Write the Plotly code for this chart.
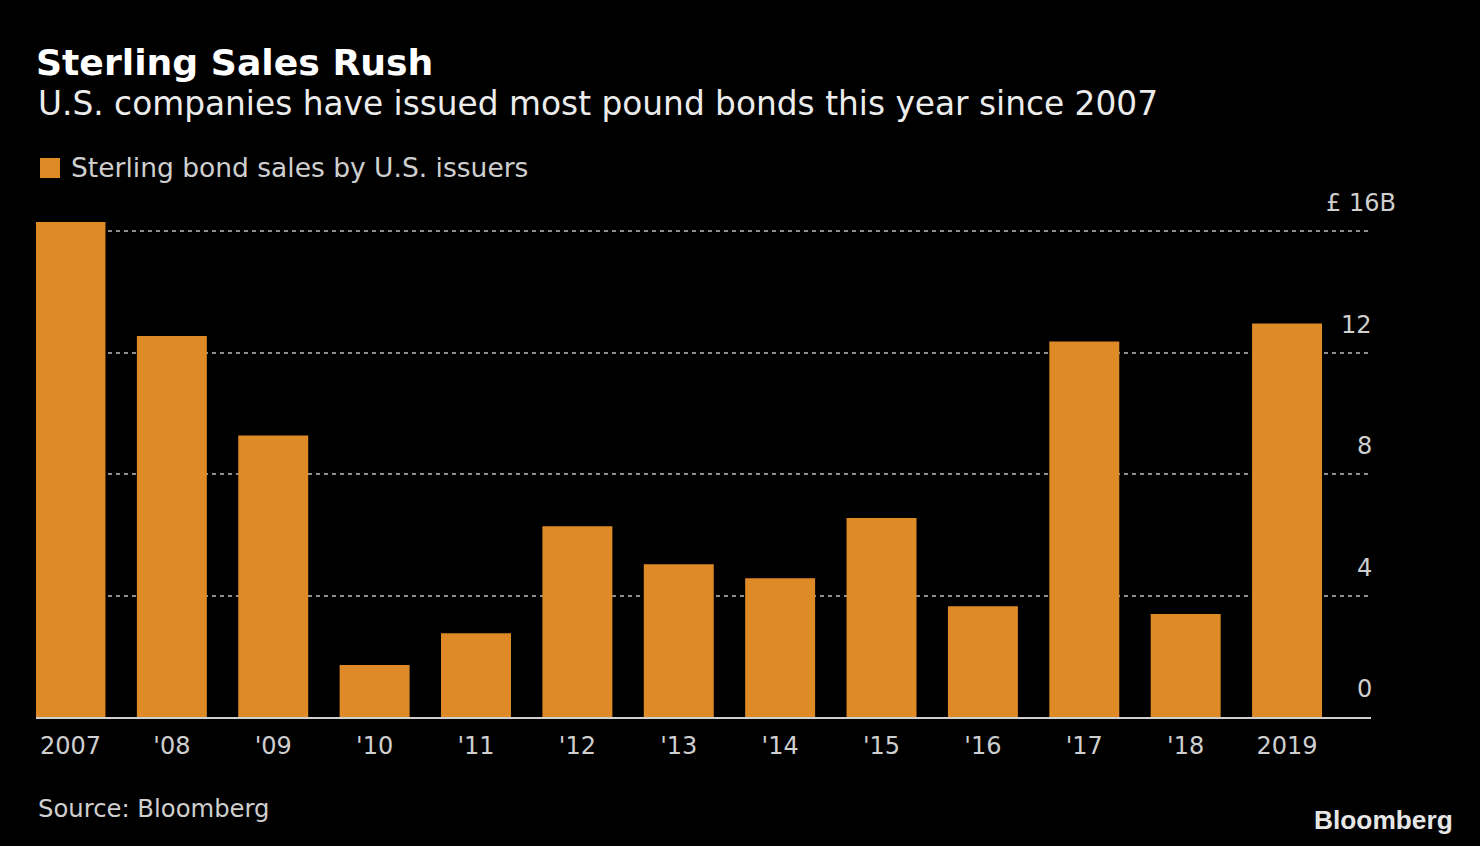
import plotly.graph_objects as go

# ---- data ----
years = ["2007", "'08", "'09", "'10", "'11", "'12", "'13", "'14", "'15", "'16", "'17", "'18", "2019"]
sales_bn = [16.3, 12.55, 9.27, 1.71, 2.76, 6.28, 5.03, 4.57, 6.55, 3.65, 12.37, 3.39, 12.96]
y_ticks = [0, 4, 8, 12, 16]
y_tick_labels = ["0", "4", "8", "12", "£ 16B"]
series_name = "Sterling bond sales by U.S. issuers"

# ---- layout constants ----
W, H = 1480, 846
ML, MR, MT, MB = 36, 109, 216, 129
PW, PH = W - ML - MR, H - MT - MB
FONT = "DejaVu Sans"
BAR = "#dd8a27"
GREY = "#cfcfcf"


def py(pix):
    """pixel y (from top) -> paper y"""
    return (H - MB - pix) / PH


def px(pix):
    """pixel x (from left) -> paper x"""
    return (pix - ML) / PW


fig = go.Figure()
fig.add_trace(go.Bar(
    x=years, y=sales_bn, name=series_name,
    marker=dict(color=BAR, line=dict(width=0)),
    showlegend=False,
))

annotations = []
for v, lab in zip(y_ticks, y_tick_labels):
    annotations.append(dict(
        x=1, xref="paper", y=v, yref="y", text=lab, showarrow=False,
        xanchor="right", yanchor="middle", yshift=28,
        xshift=27 if lab.endswith("B") else 3,
        font=dict(family=FONT, size=24, color=GREY),
    ))

annotations += [
    dict(x=0, xref="paper", y=py(104), yref="paper", xanchor="left", yanchor="middle",
         text="U.S. companies have issued most pound bonds this year since 2007",
         showarrow=False, font=dict(family=FONT, size=32.8, color="#ececec")),
    dict(x=px(69), xref="paper", y=py(168), yref="paper", xanchor="left", yanchor="middle",
         text=series_name, showarrow=False,
         font=dict(family=FONT, size=26.5, color=GREY)),
    dict(x=0, xref="paper", y=py(808), yref="paper", xanchor="left", yanchor="middle",
         text="Source: Bloomberg", showarrow=False,
         font=dict(family=FONT, size=24.3, color=GREY)),
    dict(x=px(1455), xref="paper", y=py(820), yref="paper", xanchor="right", yanchor="middle",
         text="<b>Bloomberg</b>", showarrow=False,
         font=dict(family="Liberation Sans", size=26.3, color="#e6e6e6")),
]

shapes = [
    dict(type="rect", xref="paper", yref="paper",
         x0=px(40), x1=px(60), y0=py(178), y1=py(158),
         fillcolor=BAR, line=dict(width=0)),
]

fig.update_layout(
    width=W, height=H,
    paper_bgcolor="black", plot_bgcolor="black",
    margin=dict(l=ML, r=MR, t=MT, b=MB, pad=0),
    title=dict(text="<b>Sterling Sales Rush</b>", x=ML / W, xanchor="left", xref="container",
               y=1 - 62 / H, yanchor="middle", yref="container",
               font=dict(family=FONT, size=36.2, color="white")),
    bargap=0.31,
    showlegend=False,
    xaxis=dict(range=[-0.34, 12.828], showgrid=False, zeroline=False,
               showline=True, linecolor="#cfcfcf", linewidth=2,
               ticks="outside", ticklen=6, tickcolor="rgba(0,0,0,0)",
               tickfont=dict(family=FONT, size=24, color=GREY), fixedrange=True),
    yaxis=dict(range=[0, 16.5], tickvals=y_ticks[1:], showticklabels=False,
               showgrid=True, gridcolor="#8f8f8f", griddash="4px,4px", gridwidth=1.5,
               zeroline=False, showline=False, fixedrange=True),
    annotations=annotations,
    shapes=shapes,
)

fig.write_html(
    "out.html",
    config={"displayModeBar": False},
    post_script="document.body.style.margin='0';document.body.style.background='black';"
                "document.body.style.overflow='hidden';",
)
